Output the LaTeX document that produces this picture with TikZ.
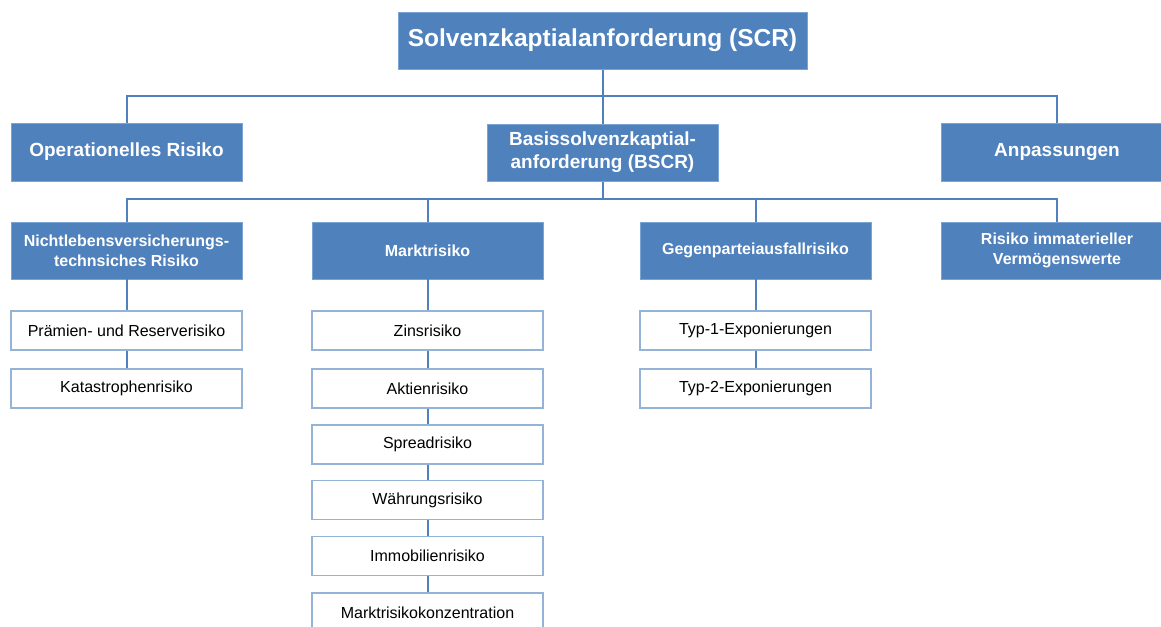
\documentclass[tikz,border=0pt]{standalone}
\usepackage{fontspec}
\setmainfont{Liberation Sans}
\usetikzlibrary{calc}
\definecolor{boxblue}{HTML}{4F81BD}
\definecolor{boxedge}{HTML}{7BA3D4}
\definecolor{lightedge}{HTML}{95B3D7}
\definecolor{linecol}{HTML}{4F81BD}
\tikzset{
  bluebox/.style={draw=boxedge, line width=0.8pt, fill=boxblue, text=white, inner sep=0pt,
    minimum width=231pt, minimum height=57pt, align=center, font=\bfseries},
  l1font/.style={font=\fontsize{19}{23}\selectfont\bfseries},
  l2font/.style={font=\fontsize{16}{20}\selectfont\bfseries},
  whitebox/.style={draw=lightedge, line width=1.1pt, fill=white, text=black, inner sep=0pt,
    minimum width=231pt, minimum height=39pt, align=center, font=\fontsize{16}{19}\selectfont},
  conn/.style={draw=linecol, line width=2pt},
}
\begin{document}
\begin{tikzpicture}[x=1pt, y=-1pt]
\useasboundingbox (0,0) rectangle (1161,626);
\clip (0,0) rectangle (1161,626);
\fill[white] (0,0) rectangle (1161,626);
% coordinates of buses
\coordinate (bus1) at (602.5,96);
\coordinate (bus2) at (602.5,199);
% connectors
\draw[conn] (602.5,40.5) -- (602.5,152.5);
\draw[conn] (126.5,152) |- (bus1) -| (1057,152);
\draw[conn] (602.5,152.5) -- (bus2);
\draw[conn] (126.5,250.5) |- (bus2) -| (1057,250.5);
\draw[conn] (427.5,199) -- (427.5,250.5);
\draw[conn] (755.5,199) -- (755.5,250.5);
% level 0
\node[bluebox, minimum width=409pt, font=\fontsize{24.5}{28}\selectfont\bfseries] (scr) at (602.5,40.5) {Solvenzkaptialanforderung (SCR)};
% level 1
\node[bluebox, l1font, minimum height=58pt] (op) at (126.5,152) {Operationelles Risiko};
\node[bluebox, l1font] (bscr) at (602.5,152.5) {Basissolvenzkaptial-\\anforderung (BSCR)};
\node[bluebox, l1font, minimum height=58pt] (anp) at (1057,152) {Anpassungen};
% level 2
\node[bluebox, l2font] (nl) at (126.5,250.5) {Nichtlebensversicherungs-\\technsiches Risiko};
\node[bluebox, l2font] (mr) at (427.5,250.5) {Marktrisiko};
\node[bluebox, l2font] (gp) at (755.5,250.5) {Gegenparteiausfallrisiko};
\node[bluebox, l2font] (ri) at (1057,250.5) {Risiko immaterieller\\Vermögenswerte};
% column 1
\node[whitebox] (pr) at (126.5,330.5) {Prämien- und Reserverisiko};
\node[whitebox] (ka) at (126.5,388.5) {Katastrophenrisiko};
% column 2
\node[whitebox] (zi) at (427.5,330.5) {Zinsrisiko};
\node[whitebox] (ak) at (427.5,388.5) {Aktienrisiko};
\node[whitebox] (sp) at (427.5,444.5) {Spreadrisiko};
\node[whitebox] (wa) at (427.5,500) {Währungsrisiko};
\node[whitebox] (im) at (427.5,556) {Immobilienrisiko};
\node[whitebox] (mk) at (427.5,612.5) {Marktrisikokonzentration};
% column 3
\node[whitebox] (t1) at (755.5,330.5) {Typ-1-Exponierungen};
\node[whitebox] (t2) at (755.5,388.5) {Typ-2-Exponierungen};
% vertical chains
\draw[conn] (nl.south) -- (pr.north);
\draw[conn] (pr.south) -- (ka.north);
\draw[conn] (mr.south) -- (zi.north);
\draw[conn] (zi.south) -- (ak.north);
\draw[conn] (ak.south) -- (sp.north);
\draw[conn] (sp.south) -- (wa.north);
\draw[conn] (wa.south) -- (im.north);
\draw[conn] (im.south) -- (mk.north);
\draw[conn] (gp.south) -- (t1.north);
\draw[conn] (t1.south) -- (t2.north);
\end{tikzpicture}
\end{document}
